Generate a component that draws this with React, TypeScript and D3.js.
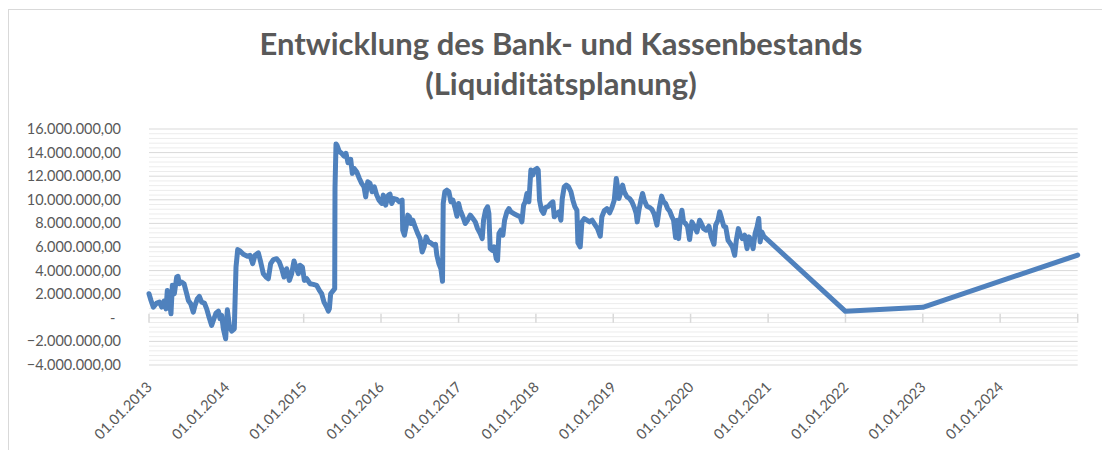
import React from "react";
import * as d3 from "d3";

// Bank- und Kassenbestand in Mio. EUR, Zeitpunkt als Dezimaljahr [jahr, mio]
const bestand2013: [number, number][] = [
  [2013.0, 2.04], [2013.026, 1.47], [2013.056, 0.91], [2013.099, 1.25], [2013.134, 1.33],
  [2013.164, 0.91], [2013.194, 1.42], [2013.22, 0.76], [2013.237, 2.32], [2013.263, 1.47],
  [2013.284, 0.34], [2013.302, 2.75], [2013.328, 2.04], [2013.358, 3.46], [2013.375, 3.51],
  [2013.392, 2.89], [2013.422, 3.03], [2013.453, 2.89], [2013.487, 2.04], [2013.509, 1.47],
  [2013.539, 1.19], [2013.573, 0.48], [2013.595, 1.05], [2013.625, 1.61], [2013.651, 1.81],
  [2013.681, 1.33], [2013.716, 1.25], [2013.746, 0.76], [2013.776, 0.06], [2013.81, -0.65],
  [2013.832, -0.23], [2013.866, 0.4], [2013.897, 0.57], [2013.918, -0.08], [2013.94, 0.2],
  [2013.961, -0.93], [2013.991, -1.78],
];
const bestand2014: [number, number][] = [
  [2014.013, 0.68], [2014.039, -0.65], [2014.069, -1.13], [2014.103, -0.93], [2014.125, 4.31],
  [2014.147, 5.78], [2014.177, 5.67], [2014.22, 5.38], [2014.272, 5.21], [2014.306, 5.3],
  [2014.341, 4.59], [2014.371, 5.3], [2014.414, 5.5], [2014.444, 4.73], [2014.478, 3.74],
  [2014.513, 3.46], [2014.543, 3.31], [2014.573, 4.59], [2014.608, 4.93], [2014.651, 5.01],
  [2014.685, 4.73], [2014.716, 4.16], [2014.746, 3.46], [2014.78, 4.16], [2014.815, 3.17],
  [2014.845, 3.74], [2014.875, 4.82], [2014.901, 4.31], [2014.931, 3.74], [2014.953, 4.45],
  [2014.983, 4.31],
];
const bestand2015: [number, number][] = [
  [2015.009, 3.17], [2015.039, 3.31], [2015.082, 2.89], [2015.125, 2.83], [2015.168, 2.75],
  [2015.203, 2.32], [2015.233, 2.04], [2015.263, 1.33], [2015.297, 0.91], [2015.319, 0.57],
  [2015.332, 0.76], [2015.349, 2.04], [2015.384, 2.32], [2015.401, 2.46], [2015.405, 10.96],
  [2015.418, 14.73], [2015.435, 14.56], [2015.461, 14.08], [2015.491, 13.94], [2015.522, 13.71],
  [2015.547, 13.94], [2015.573, 13.14], [2015.608, 13.43], [2015.629, 12.24], [2015.651, 12.66],
  [2015.685, 12.38], [2015.72, 11.81], [2015.75, 11.39], [2015.78, 11.1], [2015.802, 10.25],
  [2015.828, 11.53], [2015.858, 11.39], [2015.884, 10.68], [2015.914, 11.1], [2015.944, 10.4],
  [2015.974, 9.97],
];
const bestand2016: [number, number][] = [
  [2016.009, 9.69], [2016.03, 10.4], [2016.06, 9.55], [2016.095, 10.4], [2016.116, 10.48],
  [2016.138, 9.69], [2016.168, 10.11], [2016.203, 10.03], [2016.237, 9.83], [2016.272, 9.97],
  [2016.28, 7.42], [2016.302, 7.0], [2016.323, 7.71], [2016.345, 8.7], [2016.366, 8.56],
  [2016.384, 7.99], [2016.409, 8.27], [2016.44, 7.71], [2016.47, 7.2], [2016.504, 6.71],
  [2016.53, 5.58], [2016.556, 6.01], [2016.582, 6.86], [2016.612, 6.43], [2016.642, 6.35],
  [2016.677, 6.15], [2016.703, 6.23], [2016.72, 5.3], [2016.746, 4.59], [2016.772, 4.16],
  [2016.793, 3.09], [2016.802, 9.69], [2016.823, 10.68], [2016.849, 10.82], [2016.875, 10.68],
  [2016.901, 9.83], [2016.927, 9.97], [2016.953, 9.35], [2016.979, 8.61],
];
const bestand2017: [number, number][] = [
  [2017.0, 9.69], [2017.022, 9.12], [2017.056, 8.56], [2017.086, 7.99], [2017.116, 8.27],
  [2017.151, 8.7], [2017.185, 8.41], [2017.216, 8.13], [2017.246, 7.56], [2017.28, 7.14],
  [2017.306, 6.71], [2017.323, 8.27], [2017.349, 9.12], [2017.375, 9.41], [2017.392, 8.84],
  [2017.409, 5.86], [2017.435, 5.72], [2017.461, 6.01], [2017.487, 5.01], [2017.504, 4.87],
  [2017.522, 7.14], [2017.547, 7.42], [2017.573, 7.0], [2017.595, 8.27], [2017.625, 8.98],
  [2017.651, 9.26], [2017.677, 8.98], [2017.711, 8.84], [2017.754, 8.7], [2017.797, 8.56],
  [2017.819, 8.13], [2017.841, 9.55], [2017.862, 9.83], [2017.884, 10.54], [2017.909, 9.83],
  [2017.935, 12.52], [2017.961, 12.1], [2017.983, 12.52],
];
const bestand2018: [number, number][] = [
  [2018.013, 12.66], [2018.03, 12.52], [2018.047, 9.97], [2018.073, 9.12], [2018.099, 8.84],
  [2018.125, 9.35], [2018.164, 9.46], [2018.194, 9.69], [2018.22, 9.83], [2018.237, 8.56],
  [2018.272, 8.84], [2018.297, 8.98], [2018.323, 8.27], [2018.341, 10.11], [2018.366, 11.1],
  [2018.392, 11.25], [2018.422, 11.1], [2018.453, 10.68], [2018.478, 9.97], [2018.504, 9.41],
  [2018.53, 9.12], [2018.543, 6.35], [2018.573, 6.01], [2018.595, 8.13], [2018.625, 8.41],
  [2018.659, 8.27], [2018.694, 8.13], [2018.728, 8.27], [2018.767, 7.85], [2018.797, 7.56],
  [2018.832, 6.91], [2018.853, 8.56], [2018.884, 9.07], [2018.918, 9.26], [2018.953, 8.9],
  [2018.983, 9.35],
];
const bestand2019: [number, number][] = [
  [2019.013, 9.97], [2019.039, 11.81], [2019.056, 11.1], [2019.073, 10.11], [2019.099, 10.68],
  [2019.121, 11.25], [2019.142, 10.68], [2019.177, 10.25], [2019.211, 10.11], [2019.241, 9.83],
  [2019.272, 9.35], [2019.297, 8.84], [2019.31, 8.13], [2019.332, 9.12], [2019.358, 9.97],
  [2019.379, 10.54], [2019.401, 9.97], [2019.435, 9.46], [2019.47, 9.35], [2019.5, 9.18],
  [2019.53, 8.78], [2019.565, 7.85], [2019.595, 9.26], [2019.625, 10.31], [2019.651, 9.83],
  [2019.677, 9.69], [2019.703, 9.26], [2019.728, 9.07], [2019.759, 8.56], [2019.78, 8.27],
  [2019.806, 6.8], [2019.828, 8.27], [2019.845, 6.71], [2019.866, 8.27], [2019.888, 9.12],
  [2019.909, 8.13], [2019.935, 7.99], [2019.961, 7.71], [2019.987, 6.63],
];
const bestand2020: [number, number][] = [
  [2020.017, 8.13], [2020.047, 7.76], [2020.082, 7.28], [2020.116, 8.27], [2020.138, 7.99],
  [2020.168, 7.56], [2020.203, 7.42], [2020.237, 7.76], [2020.267, 6.86], [2020.302, 6.23],
  [2020.323, 7.85], [2020.353, 8.27], [2020.375, 8.98], [2020.401, 8.41], [2020.427, 7.76],
  [2020.453, 7.71], [2020.483, 6.57], [2020.513, 6.29], [2020.539, 6.01], [2020.569, 5.3],
  [2020.591, 6.63], [2020.616, 7.56], [2020.642, 7.0], [2020.668, 6.71], [2020.698, 7.0],
  [2020.728, 5.86], [2020.754, 6.86], [2020.78, 6.57], [2020.806, 5.86], [2020.832, 7.14],
  [2020.858, 7.71], [2020.879, 8.41], [2020.897, 6.43], [2020.918, 7.28], [2020.944, 6.91],
];
// Planwerte
const planung: [number, number][] = [
  [2022.0, 0.55], [2023.0, 0.89], [2025.0, 5.32],
];

const yTicks = [-4, -2, 0, 2, 4, 6, 8, 10, 12, 14, 16];
const jahre = d3.range(2013, 2026);
const labelJahre = d3.range(2013, 2025);

const titel1 = "Entwicklung des Bank- und Kassenbestands";
const titel2 = "(Liquiditätsplanung)";

const W = 1102;
const H = 450;
const plot = { left: 149, right: 1077.7, top: 129, bottom: 365 };
const textColor = "#595959";
const font = "Lato, 'Noto Sans', sans-serif";

const toDate = (y: number) => {
  const yr = Math.floor(y);
  const start = new Date(yr, 0, 1).getTime();
  const end = new Date(yr + 1, 0, 1).getTime();
  return new Date(start + (y - yr) * (end - start));
};

const de = d3.formatLocale({ decimal: ",", thousands: ".", grouping: [3], currency: ["", " €"] });
const fmt = de.format(",.2f");

export default function App() {
  const x = d3.scaleTime()
    .domain([new Date(2013, 0, 1), new Date(2025, 0, 1)])
    .range([plot.left, plot.right]);
  const y = d3.scaleLinear().domain([-4, 16]).range([plot.bottom, plot.top]);

  const alle = [
    ...bestand2013, ...bestand2014, ...bestand2015, ...bestand2016,
    ...bestand2017, ...bestand2018, ...bestand2019, ...bestand2020, ...planung,
  ];
  const line = d3.line<[number, number]>()
    .x(d => x(toDate(d[0])))
    .y(d => y(d[1]));

  const minorTicks = d3.range(-4, 16.001, 0.4).filter(v => Math.abs(v / 2 - Math.round(v / 2)) > 0.01);

  return (
    <svg width={W} height={H} style={{ position: "absolute", left: 0, top: 0, background: "#fff" }}>
      <rect x={8.5} y={9.5} width={W + 10} height={H + 10} fill="#fff" stroke="#d9d9d9" />
      <text x={561} y={55} textAnchor="middle" fontFamily={font} fontWeight="bold" fontSize={31} fill={textColor}>
        {titel1}
      </text>
      <text x={561} y={95} textAnchor="middle" fontFamily={font} fontWeight="bold" fontSize={31} fill={textColor}>
        {titel2}
      </text>

      {minorTicks.map(v => (
        <line key={"m" + v} x1={plot.left} x2={plot.right} y1={y(v)} y2={y(v)} stroke="#ececec" strokeWidth={1} />
      ))}
      {yTicks.map(v => (
        <line key={"g" + v} x1={plot.left} x2={plot.right} y1={y(v)} y2={y(v)} stroke="#d9d9d9" strokeWidth={1} />
      ))}
      {yTicks.map(v => (
        <text key={"t" + v} x={v === 0 ? 115.5 : 121} y={y(v)} dy="0.35em" textAnchor="end"
          fontFamily={font} fontSize={14.5} fill={textColor}>
          {v === 0 ? "-" : fmt(v * 1e6)}
        </text>
      ))}

      {jahre.map(j => (
        <line key={"k" + j} x1={x(new Date(j, 0, 1))} x2={x(new Date(j, 0, 1))} y1={y(0) - 4} y2={y(0) + 5}
          stroke="#d9d9d9" strokeWidth={1.5} />
      ))}
      {labelJahre.map(j => {
        const px = x(new Date(j, 0, 1)) + 4;
        const py = 388;
        return (
          <text key={"x" + j} transform={`translate(${px},${py}) rotate(-45)`} textAnchor="end"
            fontFamily={font} fontSize={14.5} fill={textColor}>
            {d3.timeFormat("%d.%m.%Y")(new Date(j, 0, 1))}
          </text>
        );
      })}

      <path d={line(alle) || ""} fill="none" stroke="#4f81bd" strokeWidth={5}
        strokeLinejoin="round" strokeLinecap="round" />
    </svg>
  );
}
